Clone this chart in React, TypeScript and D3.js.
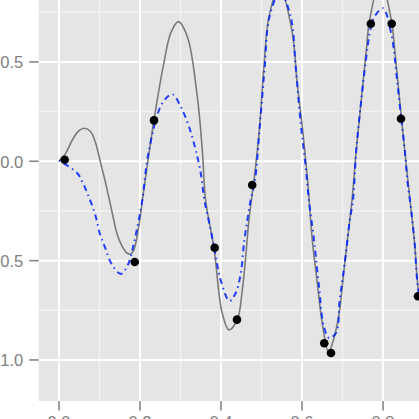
import React from 'react';
import * as d3 from 'd3';

const xTicks = [0, 0.2, 0.4, 0.6, 0.8, 1.0];
const xTickLabels = ['0.0', '0.2', '0.4', '0.6', '0.8', '1.0'];
const yTicks = [-1.0, -0.5, 0.0, 0.5];
const yTickLabels = ['-1.0', '-0.5', '0.0', '0.5'];
const xMinor = [0.1, 0.3, 0.5, 0.7, 0.9];
const yMinor = [-0.75, -0.25, 0.25, 0.75];

const truthX = [0, 0.0165, 0.0328, 0.0494, 0.0625, 0.0783, 0.0906, 0.103, 0.1153, 0.1245, 0.1335, 0.1425, 0.1563, 0.1686, 0.177, 0.185, 0.1975, 0.206, 0.2346, 0.259, 0.276, 0.2946, 0.317, 0.3415, 0.3538, 0.362, 0.3827, 0.403, 0.4198, 0.44, 0.4526, 0.461, 0.469, 0.4815, 0.494, 0.506, 0.5185, 0.5444, 0.576, 0.588, 0.6007, 0.613, 0.6254, 0.6378, 0.65, 0.6654, 0.679, 0.693, 0.701, 0.7094, 0.718, 0.7235, 0.734, 0.7464, 0.7588, 0.767, 0.7938, 0.8205, 0.829, 0.841, 0.8536, 0.8667, 0.878, 0.886, 0.905];
const truthY = [0, 0.04, 0.107, 0.154, 0.166, 0.149, 0.091, -0.01, -0.111, -0.195, -0.279, -0.36, -0.43, -0.463, -0.467, -0.446, -0.321, -0.195, 0.208, 0.495, 0.646, 0.703, 0.627, 0.325, 0.057, -0.195, -0.438, -0.765, -0.849, -0.799, -0.648, -0.48, -0.295, -0.094, 0.142, 0.476, 0.728, 0.882, 0.646, 0.394, 0.174, -0.078, -0.396, -0.614, -0.815, -0.96, -0.889, -0.748, -0.597, -0.446, -0.295, -0.195, 0.057, 0.309, 0.56, 0.711, 0.912, 0.711, 0.56, 0.309, 0.057, -0.195, -0.411, -0.623, -0.88];

const fitX = [0, 0.0452, 0.0575, 0.07, 0.0889, 0.1012, 0.1136, 0.13, 0.153, 0.171, 0.1835, 0.1958, 0.2057, 0.2222, 0.255, 0.2798, 0.3005, 0.321, 0.3375, 0.35, 0.359, 0.3746, 0.387, 0.399, 0.421, 0.4363, 0.4486, 0.4568, 0.465, 0.4733, 0.484, 0.495, 0.5074, 0.5198, 0.5457, 0.572, 0.5844, 0.5968, 0.609, 0.617, 0.6296, 0.642, 0.654, 0.6667, 0.684, 0.693, 0.701, 0.7094, 0.718, 0.726, 0.734, 0.7464, 0.7588, 0.767, 0.775, 0.788, 0.8, 0.808, 0.8165, 0.8247, 0.833, 0.8427, 0.8536, 0.8617, 0.868, 0.878, 0.886, 0.905];
const fitY = [0.005, -0.06, -0.103, -0.161, -0.265, -0.366, -0.433, -0.517, -0.567, -0.517, -0.425, -0.307, -0.195, 0.057, 0.292, 0.337, 0.275, 0.174, 0.057, -0.06, -0.195, -0.346, -0.48, -0.597, -0.703, -0.663, -0.567, -0.411, -0.295, -0.195, -0.094, 0.158, 0.46, 0.728, 0.852, 0.728, 0.476, 0.191, -0.027, -0.195, -0.396, -0.631, -0.832, -0.889, -0.864, -0.698, -0.581, -0.446, -0.295, -0.195, 0.057, 0.309, 0.526, 0.644, 0.711, 0.753, 0.77, 0.745, 0.677, 0.594, 0.443, 0.258, 0.057, -0.128, -0.22, -0.411, -0.631, -0.85];

const obsX = [0.014, 0.2346, 0.187, 0.477, 0.77, 0.8215, 0.8444, 0.3844, 0.4395, 0.655, 0.6716, 0.8864];
const obsY = [0.008, 0.206, -0.507, -0.119, 0.692, 0.692, 0.214, -0.435, -0.797, -0.916, -0.965, -0.679];

export default function App() {
  const W = 419;
  const H = 419;
  const x = d3.scaleLinear().domain([-0.05, 1.05]).range([38.75, 484.25]);
  const y = d3.scaleLinear().domain([-1.2065, 1.0]).range([401, -37.4]);
  const panelLeft = x(-0.05);
  const panelBottom = y(-1.2065);
  const panelTop = y(1.0);
  const panelRight = x(1.05);

  const truth = truthX.map((d, i) => [d, truthY[i]] as [number, number]);
  const fit = fitX.map((d, i) => [d, fitY[i]] as [number, number]);
  const line = d3
    .line<[number, number]>()
    .x((d) => x(d[0]))
    .y((d) => y(d[1]))
    .curve(d3.curveCatmullRom.alpha(0.5));

  const font = '"Liberation Sans", Arial, sans-serif';
  const textColor = '#7f7f7f';

  return (
    <svg
      width={W}
      height={H}
      style={{ position: 'absolute', left: 0, top: 0, background: '#ffffff' }}
    >
      <defs>
        <clipPath id="panel">
          <rect x={panelLeft} y={panelTop} width={panelRight - panelLeft} height={panelBottom - panelTop} />
        </clipPath>
      </defs>
      <rect x={panelLeft} y={panelTop} width={panelRight - panelLeft} height={panelBottom - panelTop} fill="#e5e5e5" />
      <g clipPath="url(#panel)">
        {xMinor.map((t) => (
          <line key={'xm' + t} x1={x(t)} x2={x(t)} y1={panelTop} y2={panelBottom} stroke="#f2f2f2" strokeWidth={1.5} />
        ))}
        {yMinor.map((t) => (
          <line key={'ym' + t} x1={panelLeft} x2={panelRight} y1={y(t)} y2={y(t)} stroke="#f2f2f2" strokeWidth={1.5} />
        ))}
        {xTicks.map((t) => (
          <line key={'xg' + t} x1={x(t)} x2={x(t)} y1={panelTop} y2={panelBottom} stroke="#ffffff" strokeWidth={2} />
        ))}
        {yTicks.map((t) => (
          <line key={'yg' + t} x1={panelLeft} x2={panelRight} y1={y(t)} y2={y(t)} stroke="#ffffff" strokeWidth={2} />
        ))}
        <path d={line(truth) || ''} fill="none" stroke="#7a7a7a" strokeWidth={1.6} />
        <path
          d={line(fit) || ''}
          fill="none"
          stroke="#0022ff"
          strokeOpacity={0.85}
          strokeWidth={2}
          strokeDasharray="1.5,4,6,4"
        />
        {obsX.map((d, i) => (
          <circle key={'p' + i} cx={x(d)} cy={y(obsY[i])} r={4.3} fill="#000000" />
        ))}
      </g>
      {yTicks.map((t, i) => (
        <g key={'yt' + t}>
          <line x1={panelLeft - 9.5} x2={panelLeft} y1={y(t)} y2={y(t)} stroke={textColor} strokeWidth={1.5} />
          <text
            x={panelLeft - 15.5}
            y={y(t) + 6.5}
            textAnchor="end"
            fontFamily={font}
            fontSize={16.5}
            fill={textColor}
          >
            {yTickLabels[i]}
          </text>
        </g>
      ))}
      {xTicks.map((t, i) => (
        <g key={'xt' + t}>
          <line x1={x(t)} x2={x(t)} y1={panelBottom} y2={panelBottom + 9.5} stroke={textColor} strokeWidth={1.5} />
          <text
            x={x(t)}
            y={panelBottom + 27}
            textAnchor="middle"
            fontFamily={font}
            fontSize={16.5}
            fill={textColor}
          >
            {xTickLabels[i]}
          </text>
        </g>
      ))}
    </svg>
  );
}
